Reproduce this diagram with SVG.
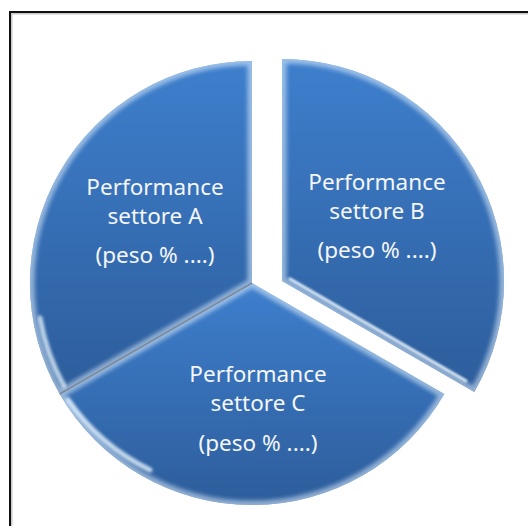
<svg xmlns="http://www.w3.org/2000/svg" width="528" height="526" viewBox="0 0 528 526">
  <style>
    .slice { stroke: none; }
    .bevel { fill: none; stroke: #e4f3ff; stroke-width: 9; opacity: 0.55; }
    .hl { fill: none; stroke: #f2fbff; stroke-width: 3; stroke-linecap: round; opacity: 0.9; }
    .hla { fill: none; stroke: #eaf7ff; stroke-width: 5; stroke-linecap: round; }
    .lbl { font-family: "Noto Sans", "Open Sans", "Liberation Sans", sans-serif; font-size: 22.5px; fill: #f4f6fa; text-anchor: middle; }
  </style>
  <defs>
    <linearGradient id="g" x1="0" y1="0" x2="0" y2="1">
      <stop offset="0" stop-color="#3e7fcd"/>
      <stop offset="1" stop-color="#2d5d9b"/>
    </linearGradient>
    <filter id="blur" x="-10%" y="-10%" width="120%" height="120%">
      <feGaussianBlur stdDeviation="2"/>
    </filter>
    <filter id="soft" x="-10%" y="-10%" width="120%" height="120%">
      <feGaussianBlur stdDeviation="1"/>
    </filter>
    <filter id="soft2" x="-10%" y="-10%" width="120%" height="120%">
      <feGaussianBlur stdDeviation="1.8"/>
    </filter>
    <path id="pA" d="M252,283 L252,61 A222,222 0 0 0 59.7,394 Z"/>
    <path id="pB" d="M282,281 L282,59 A222,222 0 0 1 474.3,392 Z"/>
    <path id="pC" d="M252,283 L444.3,394 A222,222 0 0 1 59.7,394 Z"/>
    <clipPath id="cA"><use href="#pA"/></clipPath>
    <clipPath id="cB"><use href="#pB"/></clipPath>
    <clipPath id="cC"><use href="#pC"/></clipPath>
  </defs>

  <rect width="528" height="526" fill="#ffffff"/>
  <path d="M11,526 V13 H528" fill="none" stroke="#c8c8c8" stroke-width="3"/>
  <path d="M10,526 V12 H528" fill="none" stroke="#111111" stroke-width="2"/>

  <g id="sliceA">
    <use href="#pA" class="slice" fill="url(#g)"/>
    <use href="#pA" class="bevel" clip-path="url(#cA)" filter="url(#blur)"/>
    <g clip-path="url(#cA)">
      <line class="hl" x1="248" y1="66" x2="248" y2="276" filter="url(#soft)"/>
      <path class="hla" d="M40,318 A215,215 0 0 0 64,386" opacity="0.75" filter="url(#soft2)"/>
    </g>
    <text class="lbl" x="155" y="195">Performance</text>
    <text class="lbl" x="155" y="224">settore A</text>
    <text class="lbl" x="155" y="263">(peso % ....)</text>
  </g>

  <g id="sliceB">
    <use href="#pB" class="slice" fill="url(#g)"/>
    <use href="#pB" class="bevel" clip-path="url(#cB)" filter="url(#blur)"/>
    <g clip-path="url(#cB)">
      <line class="hl" x1="290" y1="279" x2="466" y2="381" filter="url(#soft)"/>
    </g>
    <text class="lbl" x="377" y="190">Performance</text>
    <text class="lbl" x="377" y="219">settore B</text>
    <text class="lbl" x="377" y="258">(peso % ....)</text>
  </g>

  <g id="sliceC">
    <use href="#pC" class="slice" fill="url(#g)"/>
    <use href="#pC" class="bevel" clip-path="url(#cC)" filter="url(#blur)"/>
    <g clip-path="url(#cC)">
      <path class="hla" d="M68,400 A215,215 0 0 0 150,470" opacity="0.8" filter="url(#soft2)"/>
    </g>
    <text class="lbl" x="258" y="382">Performance</text>
    <text class="lbl" x="258" y="411">settore C</text>
    <text class="lbl" x="258" y="451">(peso % ....)</text>
  </g>

  <g id="connectors">
    <line x1="252" y1="283" x2="59.7" y2="394" stroke="#7f8a99" stroke-width="1.5"/>
  </g>
</svg>
